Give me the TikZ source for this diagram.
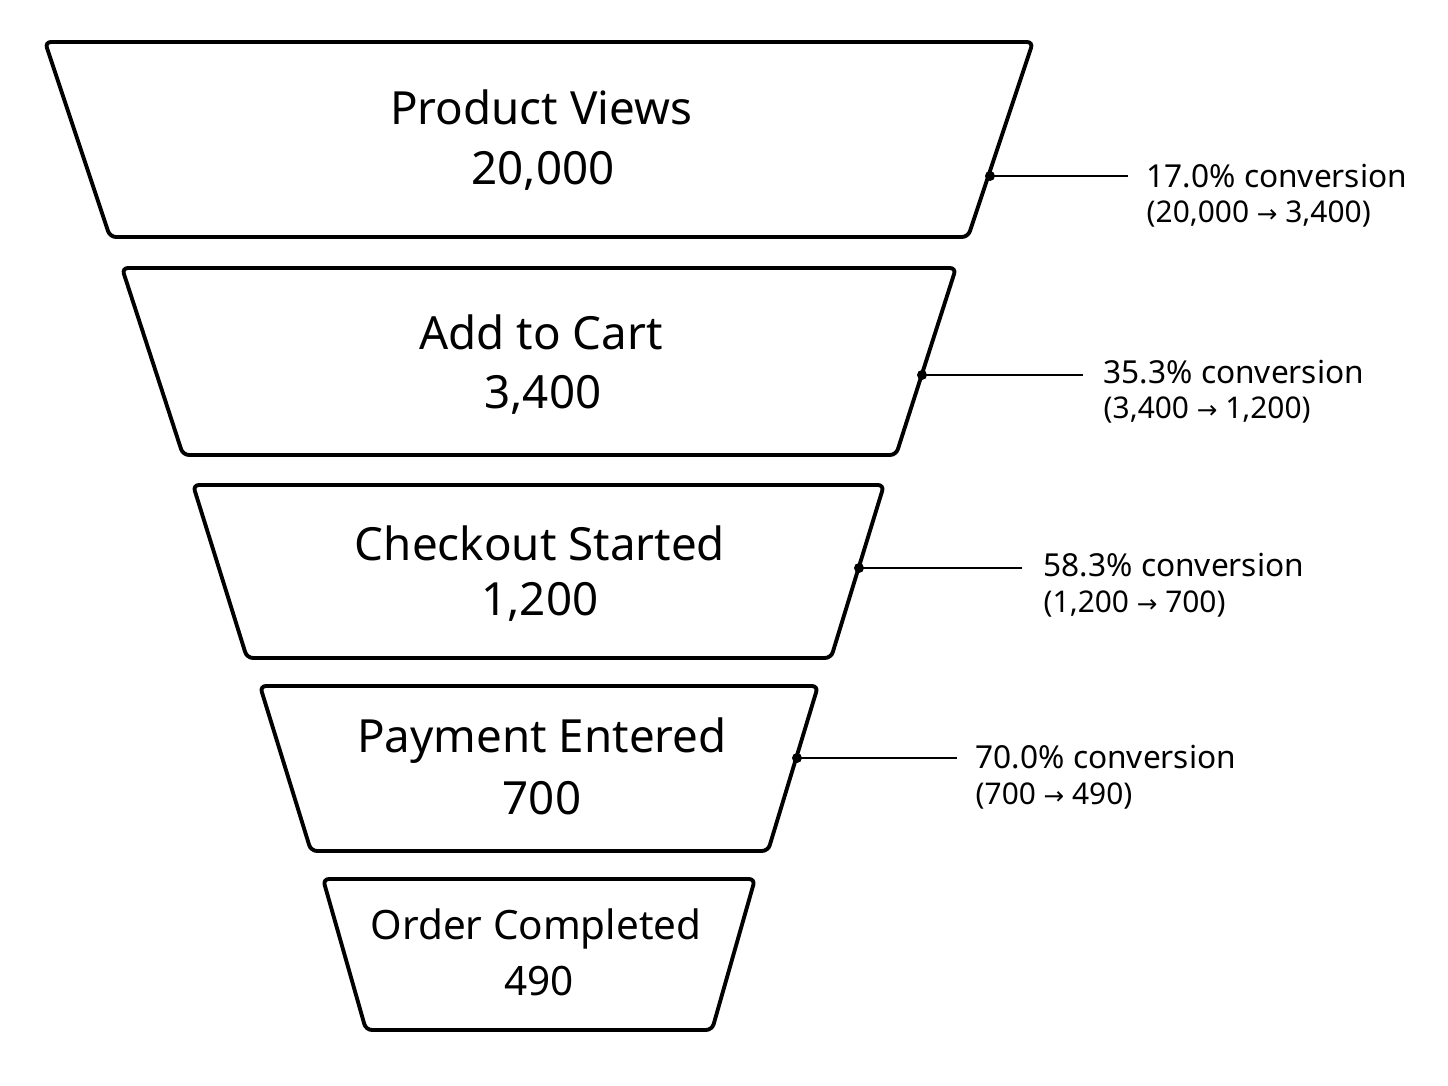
\documentclass[tikz,border=0pt]{standalone}
\usepackage{fontspec}
\setmainfont{Noto Sans}
\newfontfamily\arrowfont{DejaVu Sans}
\usetikzlibrary{calc}
\tikzset{>=latex}
\tikzstyle{stage}=[draw=black,line width=1.1pt,rounded corners=0.6mm,fill=white]
\tikzstyle{title}=[font=\fontsize{13}{15}\selectfont\bfseries,inner sep=0pt]
\tikzstyle{count}=[font=\fontsize{13}{15}\selectfont,inner sep=0pt]
\tikzstyle{rate}=[font=\fontsize{9}{11}\selectfont\bfseries,anchor=west,inner sep=0pt]
\tikzstyle{flow}=[font=\fontsize{8.5}{10}\selectfont,anchor=west,inner sep=0pt]
\newcommand{\arr}{{\arrowfont\fontsize{7}{9}\selectfont →}}
\begin{document}
\begin{tikzpicture}[x=0.01cm,y=-0.01cm]
	\useasboundingbox (0,0) rectangle (1448,1086);
	
	% funnel stages
	\draw[stage] (45,42) -- (1033,42) -- (968,237) -- (110,237) -- cycle;
	\draw[stage] (122,268) -- (956,268) -- (896,455) -- (183,455) -- cycle;
	\draw[stage] (193,485) -- (884,485) -- (831,658) -- (247,658) -- cycle;
	\draw[stage] (260,686) -- (818,686) -- (768,851) -- (311,851) -- cycle;
	\draw[stage] (323,879) -- (755,879) -- (712,1030) -- (366,1030) -- cycle;
	
	\node[title] (views) at (541,107) {Product Views};
	\node[count] (viewsn) at (543,171) {20,000};
	\node[title] (cart) at (541,332) {Add to Cart};
	\node[count] (cartn) at (543,395) {3,400};
	\node[title] (check) at (540,543) {Checkout Started};
	\node[count] (checkn) at (540,602) {1,200};
	\node[title] (pay) at (542,741) {Payment Entered};
	\node[count] (payn) at (542,798) {700};
	\node[title,font=\fontsize{11.5}{14}\selectfont\bfseries] (order) at (536,929) {Order Completed};
	\node[count,font=\fontsize{11.5}{14}\selectfont] (ordern) at (539,981) {490};
	
	% conversion callouts
	\coordinate (d1) at (990,176);
	\coordinate (e1) at (1128,176);
	\coordinate (d2) at (922,375);
	\coordinate (e2) at (1083,375);
	\coordinate (d3) at (859,568);
	\coordinate (e3) at (1022,568);
	\coordinate (d4) at (797,758);
	\coordinate (e4) at (957,758);
	\foreach \i in {1,...,4}{
		\fill (d\i) circle (5);
		\draw[line width=0.8pt] (d\i) -- (e\i);
	}
	
	\node[rate] (r1) at (1146,176) {17.0\% conversion};
	\node[flow] (f1) at (1146,214) {(20,000 \arr{} 3,400)};
	\node[rate] (r2) at (1103,372) {35.3\% conversion};
	\node[flow] (f2) at (1103,410) {(3,400 \arr{} 1,200)};
	\node[rate] (r3) at (1043,565) {58.3\% conversion};
	\node[flow] (f3) at (1043,604) {(1,200 \arr{} 700)};
	\node[rate] (r4) at (975,757) {70.0\% conversion};
	\node[flow] (f4) at (975,796) {(700 \arr{} 490)};
\end{tikzpicture}
\end{document}
